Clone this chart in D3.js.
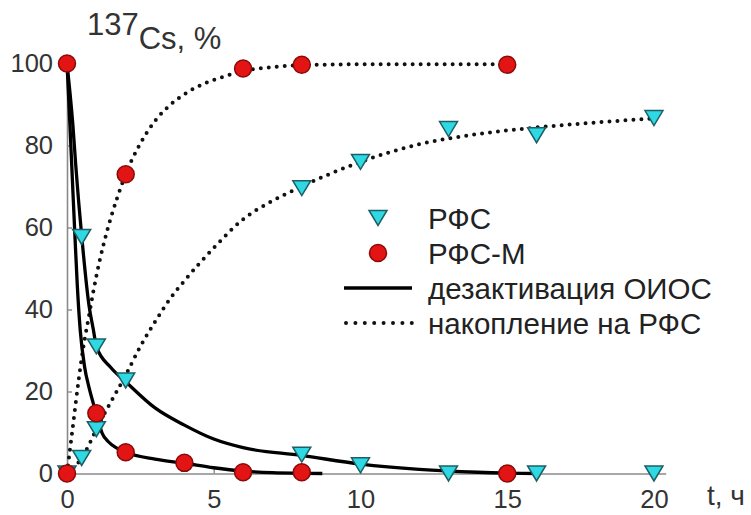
<!DOCTYPE html>
<html>
<head>
<meta charset="utf-8">
<script src="https://cdn.jsdelivr.net/npm/d3@7"></script>
<style>
  html, body { margin: 0; padding: 0; background: #fff; }
  svg { display: block; font-family: "Liberation Sans", Arial, sans-serif; }
</style>
</head>
<body>
<svg id="chart" width="751" height="515"></svg>
<script>
// Measured points, t in hours, activity in %
const rfsPoints = [
  [0, 0], [0.5, 3.8], [0.5, 57.7], [1, 10.8], [1, 31], [2, 22.7],
  [8, 4.6], [8, 69.6], [10, 2], [10, 76], [13, 0], [13, 84],
  [16, 0], [16, 82.5], [20, 0], [20, 86.7]
];
const rfsmPoints = [
  [0, 100], [0, 0], [1, 14.7], [2, 5.2], [2, 73], [4, 2.6],
  [6, 0.3], [6, 98.8], [8, 0.3], [8, 99.7], [15, 0], [15, 99.7]
];

// Fitted curves: decontamination of the solution (solid)
const decayRfs = [
  [0, 100], [0.1, 93], [0.2, 85], [0.3, 75], [0.5, 58], [0.75, 41], [0.9, 35],
  [1, 31], [1.5, 25.8], [2, 22.4], [3, 16], [4, 11.8], [5, 8.4], [6, 6.3],
  [8, 4.4], [10, 2.3], [12, 1], [14, 0.3], [16, 0]
];
const decayRfsm = [
  [0, 100], [0.1, 85], [0.2, 69], [0.27, 58], [0.35, 46], [0.45, 35], [0.6, 26],
  [0.75, 21], [0.9, 17], [1, 14.5], [1.2, 9.8], [1.4, 7.8], [1.7, 6.2], [2, 5.2],
  [3, 3.5], [4, 2.5], [5, 1.4], [6, 0.6], [7, 0.2], [8.7, 0]
];
// Fitted curves: accumulation on the sorbent (dotted)
const accumRfsm = [
  [0, 0], [0.2, 11.5], [0.4, 23], [0.55, 30.5], [0.75, 38.5], [0.9, 44.5],
  [1.1, 51.5], [1.25, 56], [1.5, 62.5], [1.7, 67], [2, 73], [2.5, 80.5],
  [3, 86], [3.5, 89.8], [4, 92.5], [4.7, 95.2], [5.3, 96.7], [6, 98.2],
  [7, 99.1], [8, 99.6], [10, 99.8], [15, 99.8]
];
const accumRfs = [
  [0, 0], [0.25, 1.5], [0.5, 3.8], [0.75, 7], [1, 10.8], [1.5, 17.5], [2, 24],
  [2.5, 31], [3, 37], [3.5, 42.5], [4, 47], [5, 55], [6, 62], [7, 66.5],
  [8, 70], [9, 73.2], [10, 76], [12, 80.3], [14, 82.8], [16, 84.4],
  [18, 85.6], [20, 86.6]
];

const xTicks = [0, 5, 10, 15, 20];
const yTicks = [0, 20, 40, 60, 80, 100];
const legendLabels = ["РФС", "РФС-М", "дезактивация ОИОС", "накопление на РФС"];

const svg = d3.select("#chart");

const x = d3.scaleLinear().domain([0, 20.4]).range([67, 665.7]);
const y = d3.scaleLinear().domain([0, 100]).range([473.5, 63.5]);

const axisColor = "#8a8a8a";
const textColor = "#333";

// Axes
const gy = svg.append("g").attr("transform", `translate(${x(0)},0)`)
  .call(d3.axisLeft(y).tickValues(yTicks).tickSize(-5).tickSizeOuter(0).tickPadding(14));
const gx = svg.append("g").attr("transform", `translate(0,${y(0)})`)
  .call(d3.axisBottom(x).tickValues(xTicks).tickSize(-5).tickSizeOuter(0).tickPadding(16));

[gx, gy].forEach(g => {
  g.select(".domain").attr("stroke", axisColor).attr("stroke-width", 1.6);
  g.selectAll(".tick line").attr("stroke", axisColor).attr("stroke-width", 1.4);
  g.selectAll(".tick text")
    .attr("fill", textColor)
    .style("font-size", "25.5px")
    .style("font-family", "'Liberation Sans', Arial, sans-serif");
});

// Axis titles
const yTitle = svg.append("text")
  .attr("x", 87).attr("y", 49)
  .attr("fill", textColor)
  .style("font-size", "31px");
yTitle.append("tspan").attr("dy", -14).text("137");
yTitle.append("tspan").attr("dy", 14).text("Cs, %");

svg.append("text")
  .attr("x", 707).attr("y", 505)
  .attr("fill", textColor)
  .style("font-size", "28px")
  .text("t, ч");

// Curves
const line = d3.line()
  .x(d => x(d[0]))
  .y(d => y(d[1]))
  .curve(d3.curveMonotoneX);

const solid = { stroke: "#000", "stroke-width": 3.3, fill: "none" };
const dotted = { stroke: "#111", "stroke-width": 4, fill: "none",
  "stroke-dasharray": "0 8", "stroke-linecap": "round" };

function drawCurve(data, style) {
  const p = svg.append("path").datum(data).attr("d", line);
  Object.entries(style).forEach(([k, v]) => p.attr(k, v));
}
drawCurve(accumRfsm, dotted);
drawCurve(accumRfs, dotted);
drawCurve(decayRfs, solid);
drawCurve(decayRfsm, solid);

// Markers
const triPath = "M-9,-7.5L9,-7.5L0,7.5Z";
const triFill = "#2fd9e3", triStroke = "#1d5f66";
const dotFill = "#e31414", dotStroke = "#8a0a0a";

svg.append("g").selectAll("path").data(rfsPoints).join("path")
  .attr("d", triPath)
  .attr("transform", d => `translate(${x(d[0])},${y(d[1])})`)
  .attr("fill", triFill).attr("stroke", triStroke).attr("stroke-width", 1.5);

svg.append("g").selectAll("circle").data(rfsmPoints).join("circle")
  .attr("cx", d => x(d[0])).attr("cy", d => y(d[1])).attr("r", 8.5)
  .attr("fill", dotFill).attr("stroke", dotStroke).attr("stroke-width", 1.5);

// Legend
const lg = svg.append("g");
const rowY = [218, 253, 288, 323];
lg.append("path").attr("d", triPath)
  .attr("transform", `translate(378,${rowY[0]})`)
  .attr("fill", triFill).attr("stroke", triStroke).attr("stroke-width", 1.5);
lg.append("circle").attr("cx", 378).attr("cy", rowY[1]).attr("r", 8.5)
  .attr("fill", dotFill).attr("stroke", dotStroke).attr("stroke-width", 1.5);
lg.append("line").attr("x1", 344).attr("x2", 412).attr("y1", rowY[2]).attr("y2", rowY[2])
  .attr("stroke", "#000").attr("stroke-width", 3.3);
lg.append("line").attr("x1", 346).attr("x2", 412).attr("y1", rowY[3]).attr("y2", rowY[3])
  .attr("stroke", "#111").attr("stroke-width", 4)
  .attr("stroke-dasharray", "0 9.4").attr("stroke-linecap", "round");

lg.selectAll("text.lab").data(legendLabels).join("text")
  .attr("class", "lab")
  .attr("x", 428)
  .attr("y", (d, i) => rowY[i])
  .attr("dy", "0.36em")
  .attr("fill", "#222")
  .style("font-size", "29.5px")
  .text(d => d);
</script>
</body>
</html>
